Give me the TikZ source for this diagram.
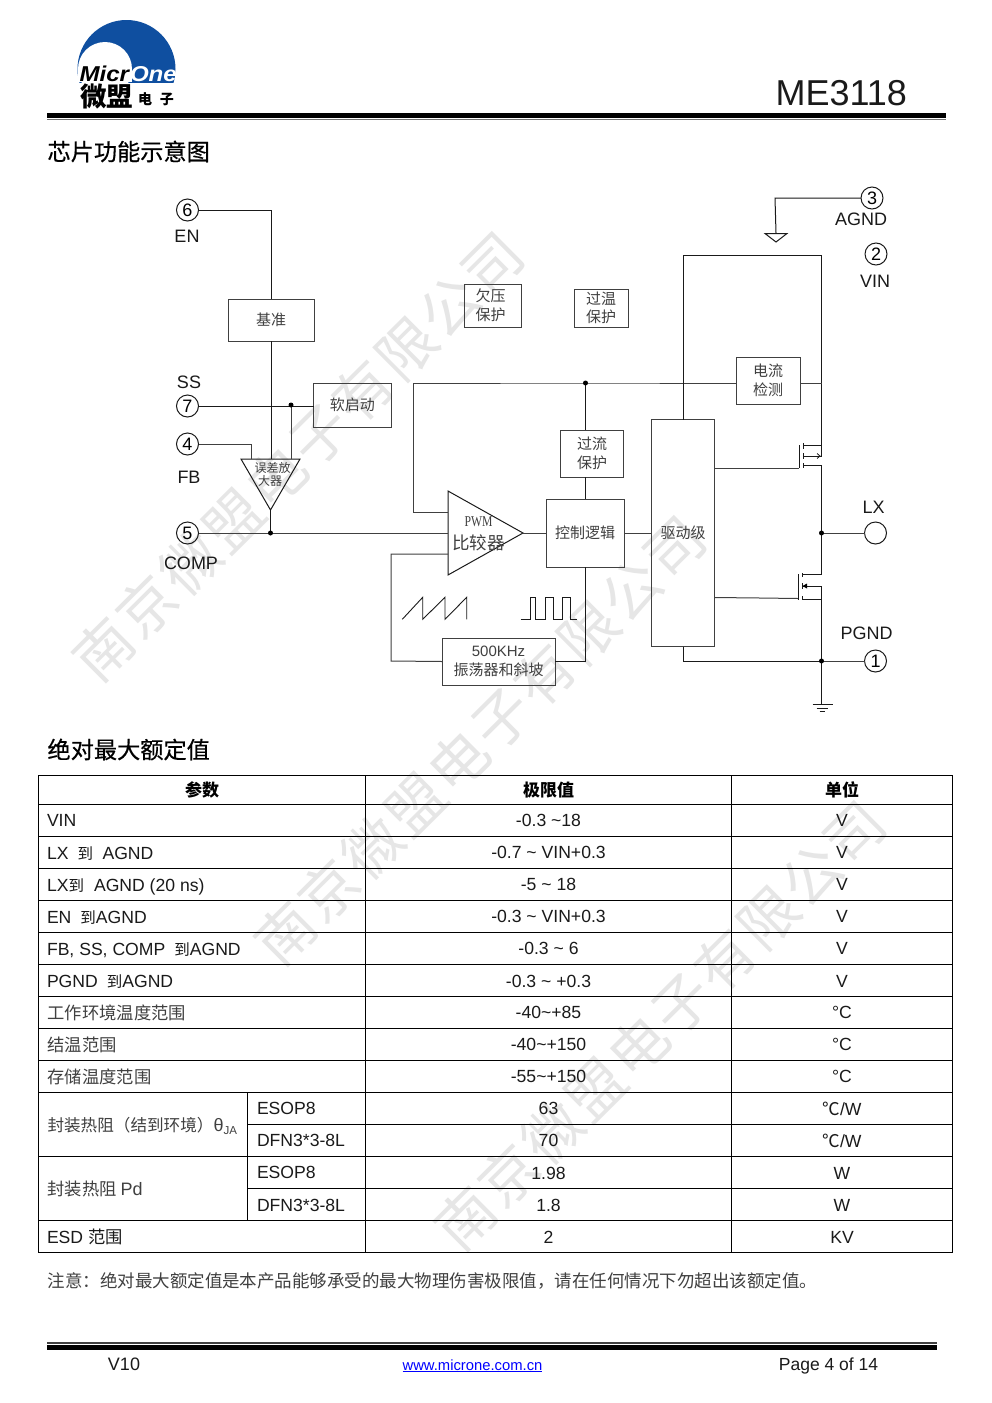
\documentclass[tikz,border=0pt]{standalone}
\usepackage{fontspec}
\setmainfont{Liberation Sans}
\newfontfamily\cjkfont{Noto Sans CJK SC}
\newfontfamily\headfont[FakeBold=0.5]{Noto Sans CJK SC}
\newfontfamily\serfont[FakeStretch=0.78]{Liberation Serif}
\newfontfamily\logofont[FakeStretch=1.12]{Liberation Sans}
\newfontfamily\wmfont[LetterSpace=5]{Noto Sans CJK SC}
\newcommand\cj[1]{{\cjkfont #1}}
\newcommand\fs[1]{\fontsize{#1}{#1}\selectfont}
\newcommand\dao{{\cjkfont\fs{15.5}到}}
\definecolor{logoblue}{HTML}{0F4FA0}
\definecolor{ink}{HTML}{1A1A1A}
\definecolor{softink}{HTML}{404040}
\definecolor{wmgray}{HTML}{E6E6E6}
\tikzset{
  base/.style={inner sep=0,outer sep=0},
  wire/.style={draw=ink,line width=1pt},
  wiregray/.style={draw=softink,line width=1pt},
  block/.style={base,draw=softink,line width=1pt,align=center,text=softink,font=\cjkfont\fs{15}},
  blocktext/.style={base,align=center,text=softink,font=\cjkfont\fs{15}},
  pin/.style={base,draw=ink,line width=1pt,circle,minimum size=22pt,font=\fs{18}},
  pinlabel/.style={base,font=\fs{18},text=ink},
  junction/.style={fill=black,circle,inner sep=0,minimum size=5pt},
  grid/.style={draw=black,line width=1pt},
  tl/.style={base,anchor=base west,font=\fs{17.6},text=ink},
  tc/.style={base,anchor=base,font=\fs{17.6},text=ink},
  tcj/.style={base,anchor=base west,font=\cjkfont\fs{17.3},text=softink},
  th/.style={base,anchor=base,font=\cjkfont\bfseries\fs{17},text=black},
  heading/.style={base,anchor=west,font=\headfont\fs{23.2},text=black},
  watermark/.style={base,rotate=44.8,font=\wmfont\fs{58},text=wmgray},
  foot/.style={base,anchor=base,text=ink}
}
\begin{document}
\begin{tikzpicture}[x=1pt,y=-1pt]
\useasboundingbox (0,0) rectangle (991,1403);
\fill[white] (0,0) rectangle (991,1403);
% watermark
\node[watermark] (wm1) at (298,456) {南京微盟电子有限公司};
\node[watermark] (wm2) at (480,740) {南京微盟电子有限公司};
\node[watermark] (wm3) at (660,1025) {南京微盟电子有限公司};
% logo
\begin{scope}
\clip (70,15) rectangle (180,82);
\fill[logoblue] (126.5,69) circle (49);
\fill[white] (105,69) circle (27);
\fill[white] (78,69) rectangle (132,82);
\end{scope}
\node[base,anchor=base west,font=\logofont\bfseries\itshape\fs{21.5}] (logoA) at (79.5,81.5) {Micr};
\node[base,anchor=base west,font=\logofont\bfseries\itshape\fs{21.5},text=white] (logoB) at (130,81.5) {One};
\node[base,anchor=west,font=\cjkfont\bfseries\fs{26.5}] (logoC) at (80,96) {微盟};
\node[base,anchor=west,font=\cjkfont\bfseries\fs{14}] (logoD) at (138,99.5) {电\hspace{8pt}子};
% header
\node[base,anchor=base east,font=\fs{36},text=ink] (model) at (907,105) {ME3118};
\fill[black] (47,113) rectangle (946,118);
\fill[black!55] (47,118.8) rectangle (946,120);
\node[heading] (h1) at (47.5,151.5) {芯片功能示意图};
% diagram: pins
\node[pin] (p6) at (187.5,210) {6};
\node[pin] (p3) at (872,198) {3};
\node[pin] (p2) at (876,254) {2};
\node[pin] (p7) at (187.5,406) {7};
\node[pin] (p4) at (187.5,444) {4};
\node[pin] (p5) at (187.5,533) {5};
\node[pin] (pLX) at (875.5,533) {};
\node[pin] (p1) at (875.5,661) {1};
\node[pinlabel] (lEN) at (187,236) {EN};
\node[pinlabel] (lAGND) at (861,219) {AGND};
\node[pinlabel] (lVIN) at (875,281) {VIN};
\node[pinlabel] (lSS) at (189,382) {SS};
\node[pinlabel] (lFB) at (189,477) {FB};
\node[pinlabel] (lCOMP) at (191,563) {COMP};
\node[pinlabel] (lLX) at (873.5,507) {LX};
\node[pinlabel] (lPGND) at (866.5,633) {PGND};
% blocks
\node[block,minimum width=86pt,minimum height=42pt] (ref) at (271,320) {基准};
\node[block,minimum width=56.5pt,minimum height=43pt] (uvlo) at (493.2,305.5) {欠压\hspace*{5pt}\\[4pt]保护\hspace*{5pt}};
\node[block,minimum width=54pt,minimum height=38pt] (otp) at (601,308) {过温\\[3.5pt]保护};
\node[block,minimum width=64pt,minimum height=47pt] (cs) at (768,380.5) {电流\\[3.5pt]检测};
\node[block,minimum width=77.5pt,minimum height=44pt] (ss) at (352.3,405) {软启动};
\node[block,minimum width=63pt,minimum height=47pt] (ocp) at (592,453.5) {过流\\[3.5pt]保护};
\node[block,minimum width=78pt,minimum height=68pt] (logic) at (585,533) {控制逻辑};
\node[block,minimum width=62.5pt,minimum height=227pt] (drv) at (683.2,533) {驱动级};
\node[block,minimum width=113pt,minimum height=47pt] (osc) at (498.5,661.5) {\fontspec{Liberation Sans}500KHz\\[4pt]振荡器和斜坡};
% error amp
\coordinate (eaL) at (241,459);
\coordinate (eaR) at (300,459);
\coordinate (eaB) at (270.5,510);
\draw[wire] (eaL) -- (eaR) -- (eaB) -- cycle;
\node[blocktext,font=\cjkfont\fs{12},text=softink] (eaT1) at (272.7,468) {误差放};
\node[blocktext,font=\cjkfont\fs{12},text=softink] (eaT2) at (270,481) {大器};
% pwm comparator
\coordinate (pwmA) at (448,491);
\coordinate (pwmB) at (448,575);
\coordinate (pwmC) at (523,533);
\draw[wire] (pwmA) -- (pwmB) -- (pwmC) -- cycle;
\node[blocktext,font=\serfont\fs{15}] (pwmT1) at (478.5,522) {PWM};
\node[blocktext,font=\cjkfont\fs{17.5}] (pwmT2) at (478.5,543) {比较器};
\coordinate (pwmIn1) at (448,512);
\coordinate (pwmIn2) at (448,554);
\coordinate (pwmIn3) at (448,533);
% junctions
\coordinate (jSS) at (291,405);
\coordinate (jCOMP) at (270.5,533);
\coordinate (jBus) at (585.5,383);
\coordinate (jLX) at (821.5,533);
\coordinate (jGND) at (821.5,661);
% wires left
\draw[wire] (p6.east) -- (271.5,210) -- (ref.north -| 271.5,299);
\draw[wire] (ref.south -| 271.5,341) -- (271.5,459);
\draw[wire] (p7.east) -- (p7.east -| ss.west);
\draw[wiregray] (jSS) -- (jSS |- eaR);
\draw[wiregray] (p4.east) -- (251,444) -- (251,459);
\draw[wire] (eaB) -- (jCOMP);
\draw[wiregray] (p5.east) -- (pwmIn3);
\draw[wiregray] (pwmC) -- (pwmC -| logic.west);
\draw[wiregray] (logic.east) -- (logic.east -| drv.west);
\draw[wiregray] (pwmIn1) -- (413,512) -- (413,383) -- (jBus) -- (jBus -| cs.west);
\draw[wiregray] (pwmIn2) -- (391,554) -- (391,661) -- (osc.west);
\draw[wire] (jBus) -- (jBus |- ocp.north);
\draw[wire] (ocp.south -| logic.north) -- (logic.north);
\draw[wire] (logic.south) -- (logic.south |- osc.east) -- (osc.east);
% agnd
\coordinate (agA) at (776,233);
\draw[wire] (p3.west) -- (775,198) -- (agA);
\draw[wire] (765,233.5) -- (787,233.5) -- (776,242) -- cycle;
% vin rail
\draw[wire] (683.5,419.5) -- (683.5,255.5) -- (821.5,255.5) -- (821.5,456);
\draw[wiregray] (cs.east |- jBus) -- (821.5,383);
% high-side FET
\draw[wiregray] (drv.east |- 0,468) -- (799,468);
\draw[wire] (799.3,445) -- (799.3,468);
\draw[wire] (803,443) -- (803,449);
\draw[wire] (803,453) -- (803,459);
\draw[wire] (803,463) -- (803,468);
\draw[wire] (803,445.7) -- (821.5,445.7);
\draw[wire,line width=.8pt] (803,456) -- (821.5,456);
\draw[wire,line width=.8pt] (817,453.5) -- (820,456) -- (817,458.5);
\draw[wire] (803,465.7) -- (821.5,465.7) -- (jLX) -- (821.5,574.5) -- (803,574.5);
% low-side FET
\draw[wiregray] (drv.east |- 0,597.5) -- (760,598) -- (798,598.5);
\draw[wire] (798,574) -- (798,600);
\draw[wire] (802,573) -- (802,577);
\draw[wire] (802,583) -- (802,589);
\draw[wire] (802,596) -- (802,600);
\draw[wire] (802,586) -- (821.5,586) -- (jGND);
\draw[wire] (802,599) -- (821.5,599);
\fill[black] (802.5,586) -- (807,583.5) -- (807,588.5) -- cycle;
% right side
\draw[wiregray] (jLX) -- (pLX.west);
\draw[wiregray] (jGND) -- (p1.west);
\draw[wire] (683,646.5) -- (683,661) -- (jGND);
\draw[wire] (jGND) -- (821.5,704);
\draw[wire] (812.5,704.5) -- (833,704.5);
\draw[wire] (816.5,708) -- (827.5,708);
\draw[wire] (819.5,711) -- (825,711);
% junction dots
\node[junction] (dSS) at (jSS) {};
\node[junction] (dCOMP) at (jCOMP) {};
\node[junction] (dBus) at (jBus) {};
\node[junction] (dLX) at (jLX) {};
\node[junction] (dGND) at (jGND) {};
% waveforms
\draw[wire,line width=.9pt] (402.3,619.3) -- (422.7,597.3) -- (422.7,619.3) -- (445,597.3) -- (445,619.3) -- (466.7,597.3) -- (466.7,619.3);
\draw[wire,line width=.9pt] (520.7,619) -- (530,619) -- (530,597.3) -- (535.7,597.3) -- (535.7,619) -- (545.3,619) -- (545.3,597.3) -- (553,597.3) -- (553,619) -- (562.3,619) -- (562.3,597.3) -- (570,597.3) -- (570,619) -- (576.7,619);
% section 2
\node[heading] (h2) at (47.5,749.5) {绝对最大额定值};
% table grid
\draw[grid] (38.5,775.5) rectangle (952.5,1252.5);
\foreach \yy in {804.5,836.5,868.5,900.5,932.5,964.5,996.5,1028.5,1060.5,1092.5,1156.5,1220.5}
  \draw[grid] (38.5,\yy) -- (952.5,\yy);
\draw[grid] (247.5,1124.5) -- (952.5,1124.5);
\draw[grid] (247.5,1188.5) -- (952.5,1188.5);
\draw[grid] (365.5,775.5) -- (365.5,1252.5);
\draw[grid] (731.5,775.5) -- (731.5,1252.5);
\draw[grid] (247.5,1092.5) -- (247.5,1220.5);
% table header
\node[th] (t00) at (202,796) {参数};
\node[th] (t01) at (548.5,796) {极限值};
\node[th] (t02) at (842,796) {单位};
% column 1
\node[tl] (a1) at (47,826) {VIN};
\node[tl] (a2) at (47,859.5) {LX\hspace{9pt}\dao\hspace{9.5pt}AGND};
\node[tl] (a3) at (47,891.5) {LX\dao\hspace{10pt}AGND (20 ns)};
\node[tl] (a4) at (47,923.5) {EN\hspace{9pt}\dao AGND};
\node[tl] (a5) at (47,955.5) {FB, SS, COMP\hspace{9pt}\dao AGND};
\node[tl] (a6) at (47,987.5) {PGND\hspace{9pt}\dao AGND};
\node[tcj] (a7) at (47.5,1019.5) {工作环境温度范围};
\node[tcj] (a8) at (47.5,1051.5) {结温范围};
\node[tcj] (a9) at (47.5,1083.5) {存储温度范围};
\node[tcj,font=\cjkfont\fs{16.6}] (a10) at (47.5,1131) {封装热阻（结到环境）\fontspec{Liberation Sans}\fs{18}θ\raisebox{-3pt}{\fs{11.5}JA}};
\node[tcj] (a11) at (47.5,1195) {封装热阻 \fontspec{Liberation Sans}\fs{18}Pd};
\node[tl] (a12) at (47,1243) {ESD \cj{\fs{17.3}范围}};
\node[tl] (b1) at (257,1114) {ESOP8};
\node[tl] (b2) at (257,1146.5) {DFN3*3-8L};
\node[tl] (b3) at (257,1178) {ESOP8};
\node[tl] (b4) at (257,1211) {DFN3*3-8L};
% column 2
\node[tc] (c1) at (548.5,826) {-0.3 \textasciitilde18};
\node[tc] (c2) at (548.5,858) {-0.7 \textasciitilde\ VIN+0.3};
\node[tc] (c3) at (548.5,890) {-5 \textasciitilde\ 18};
\node[tc] (c4) at (548.5,922) {-0.3 \textasciitilde\ VIN+0.3};
\node[tc] (c5) at (548.5,954) {-0.3 \textasciitilde\ 6};
\node[tc] (c6) at (548.5,987) {-0.3 \textasciitilde\ +0.3};
\node[tc] (c7) at (548.5,1018) {-40\textasciitilde+85};
\node[tc] (c8) at (548.5,1050) {-40\textasciitilde+150};
\node[tc] (c9) at (548.5,1082) {-55\textasciitilde+150};
\node[tc] (c10) at (548.5,1114) {63};
\node[tc] (c11) at (548.5,1146) {70};
\node[tc] (c12) at (548.5,1179) {1.98};
\node[tc] (c13) at (548.5,1211) {1.8};
\node[tc] (c14) at (548.5,1243) {2};
% column 3
\node[tc] (d1) at (842,826) {V};
\node[tc] (d2) at (842,858) {V};
\node[tc] (d3) at (842,890) {V};
\node[tc] (d4) at (842,922) {V};
\node[tc] (d5) at (842,954) {V};
\node[tc] (d6) at (842,987) {V};
\node[tc] (d7) at (842,1018) {°C};
\node[tc] (d8) at (842,1050) {°C};
\node[tc] (d9) at (842,1082) {°C};
\node[tc] (d10) at (842,1115) {\cj{℃}/W};
\node[tc] (d11) at (842,1147) {\cj{℃}/W};
\node[tc] (d12) at (842,1179) {W};
\node[tc] (d13) at (842,1211) {W};
\node[tc] (d14) at (842,1243) {KV};
% note
\node[tcj,font=\cjkfont\fs{17.5}] (note) at (47.5,1287) {注意：绝对最大额定值是本产品能够承受的最大物理伤害极限值，请在任何情况下勿超出该额定值。};
% footer
\fill[black!75] (47,1342.3) rectangle (937,1344);
\fill[black] (47,1345.3) rectangle (937,1350);
\node[foot,font=\fs{18}] (v10) at (124,1370) {V10};
\node[foot,font=\fs{14.8},text=blue] (url) at (472.5,1370) {\underline{www.microne.com.cn}};
\node[foot,font=\fs{17.5}] (page) at (828.5,1370) {Page 4 of 14};
\end{tikzpicture}
\end{document}
